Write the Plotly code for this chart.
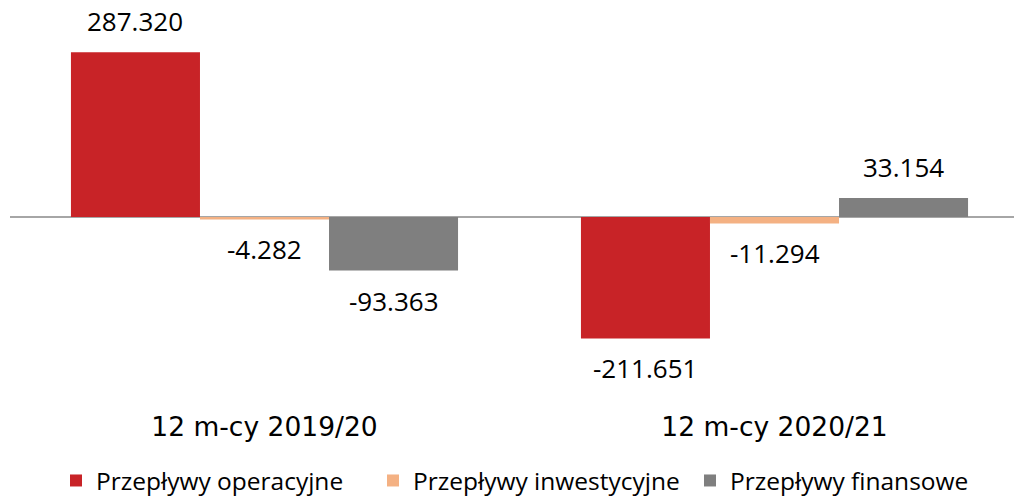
import plotly.graph_objects as go

categories = ["12 m-cy 2019/20", "12 m-cy 2020/21"]
series_names = ["Przepływy operacyjne", "Przepływy inwestycyjne", "Przepływy finansowe"]
operacyjne = [287.320, -211.651]
inwestycyjne = [-4.282, -11.294]
finansowe = [-93.363, 33.154]
colors = ["#C82327", "#F4B183", "#7F7F7F"]

BARGAP = 0.241

def fmt(v):
    return f"{v:.3f}"

fig = go.Figure()
all_series = [operacyjne, inwestycyjne, finansowe]
n = len(all_series)
bar_w = (1 - BARGAP) / n
annotations = []
for i, (name, vals, col) in enumerate(zip(series_names, all_series, colors)):
    fig.add_trace(go.Bar(
        x=[0, 1], y=vals, name=name,
        marker=dict(color=col, line=dict(width=0)),
        cliponaxis=False,
    ))
    off = (i - (n - 1) / 2) * bar_w
    for xi, v in enumerate(vals):
        annotations.append(dict(
            x=xi + off, y=v, xref="x", yref="y", text=fmt(v), showarrow=False,
            xanchor="center", yanchor="bottom" if v >= 0 else "top",
            yshift=11 if v >= 0 else -10,
            font=dict(family="Open Sans", size=26, color="#000000"),
        ))

fig.update_layout(
    width=1014, height=497,
    margin=dict(l=10, r=0, t=20, b=89, autoexpand=False),
    paper_bgcolor="white", plot_bgcolor="white",
    barmode="group", bargap=BARGAP, bargroupgap=0,
    showlegend=True,
    legend=dict(orientation="h", x=0.0458, xanchor="left", y=-0.187, yanchor="middle",
                font=dict(family="Open Sans", size=24.5, color="#000000"),
                traceorder="normal", entrywidth=272, entrywidthmode="pixels"),
    xaxis=dict(range=[-0.499, 1.4696], tickvals=[0, 1], ticktext=categories,
               showgrid=False, zeroline=False, showline=False, ticks="",
               tickfont=dict(family="DejaVu Sans", size=26.5, color="#000000")),
    yaxis=dict(range=[-333, 343.5], showgrid=False, showticklabels=False, ticks="",
               zeroline=True, zerolinecolor="#A6A6A6", zerolinewidth=1.5, showline=False),
    annotations=annotations,
)

fig.write_html("out.html", config={"displayModeBar": False},
               post_script="document.body.style.margin='0';document.body.style.overflow='hidden';")
